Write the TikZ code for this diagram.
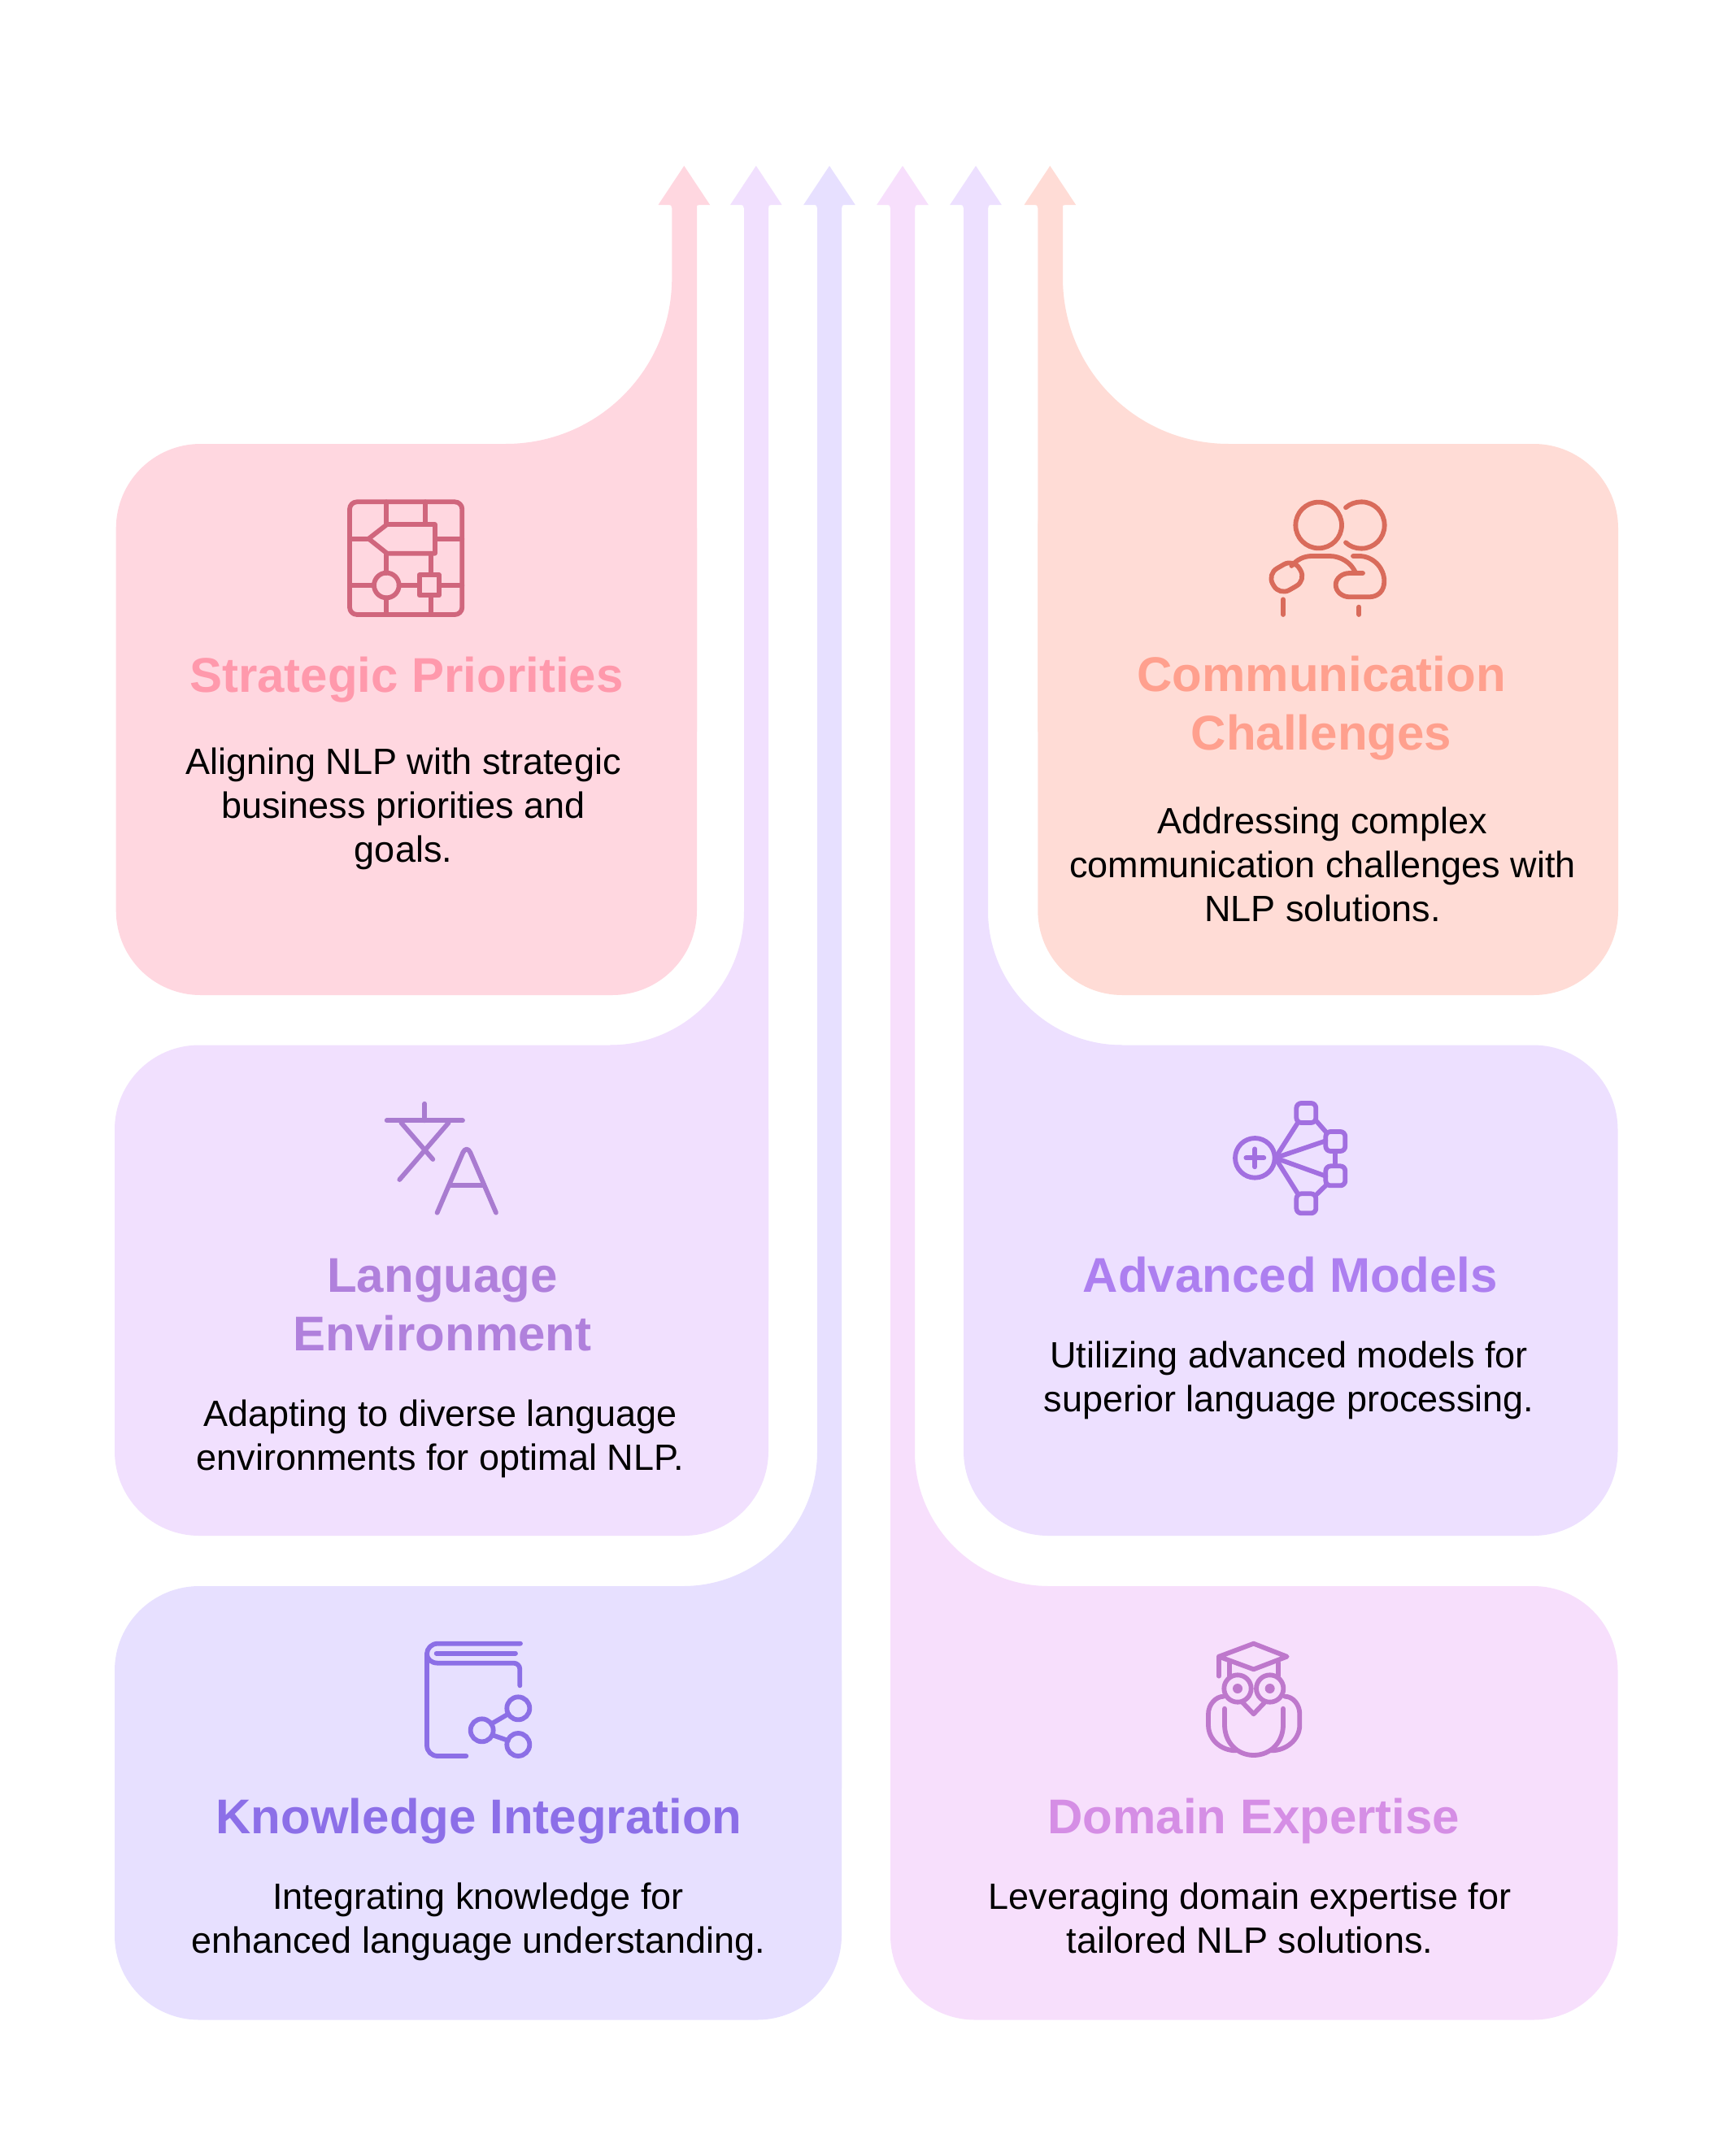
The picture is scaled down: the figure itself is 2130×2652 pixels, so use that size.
\documentclass[tikz,border=0pt]{standalone}
\usepackage{fontspec}
\setmainfont{Liberation Sans}
\definecolor{fillpink}{HTML}{FFD7E0}
\definecolor{fillcoral}{HTML}{FFDCD6}
\definecolor{filllilac}{HTML}{F1E0FE}
\definecolor{fillmauve}{HTML}{EDE0FF}
\definecolor{fillviolet}{HTML}{E7E0FF}
\definecolor{fillorchid}{HTML}{F7DFFC}
\definecolor{iconpink}{HTML}{D0667D}
\definecolor{iconcoral}{HTML}{D96B5B}
\definecolor{iconlilac}{HTML}{A97BD0}
\definecolor{iconmauve}{HTML}{A26FE0}
\definecolor{iconviolet}{HTML}{8C6FE6}
\definecolor{iconorchid}{HTML}{BE78CC}
\definecolor{headpink}{HTML}{FF99AC}
\definecolor{headcoral}{HTML}{FFA08E}
\definecolor{headlilac}{HTML}{B080DC}
\definecolor{headmauve}{HTML}{AD7FF0}
\definecolor{headviolet}{HTML}{8C6FE8}
\definecolor{headorchid}{HTML}{D58EE5}
\tikzset{
  headtext/.style={font=\bfseries\fontsize{60}{72}\selectfont,align=center,inner sep=0pt},
  bodytext/.style={font=\fontsize{45}{54}\selectfont,align=center,inner sep=0pt,text=black},
  iconline/.style={line width=5.8pt,line cap=round,line join=round}
}
\begin{document}
\begin{tikzpicture}[x=1pt,y=-1pt]
  \useasboundingbox (0,0) rectangle (2130,2652);
  \fill[white] (0,0) rectangle (2130,2652);
  % arrow heads
  \foreach \hx/\hc in {841.3/fillpink,929.8/filllilac,1020/fillviolet,1110/fillorchid,1200/fillmauve,1291.3/fillcoral}
    \fill[\hc] (\hx-31.8,252) -- (\hx,204) -- (\hx+31.8,252) -- (\hx+18.5,252)
      .. controls (\hx+16,252) and (\hx+15.3,253) .. (\hx+15.3,255.5) -- (\hx-15.3,255.5)
      .. controls (\hx-15.3,253) and (\hx-16,252) .. (\hx-18.5,252) -- cycle;
  % left column
  \fill[fillpink,rounded corners=104] (142.7,546) rectangle (857,1224);
  \fill[fillpink] (622,546) .. controls (735,546) and (826.3,455) .. (826.3,342) -- (826.3,254) -- (857,254) -- (857,900) -- (622,900) -- cycle;
  \fill[filllilac,rounded corners=104] (141,1285.5) rectangle (945,1889);
  \fill[filllilac] (750,1285.5) .. controls (841,1285.5) and (915,1211.5) .. (915,1120.5) -- (915,254) -- (945,254) -- (945,1600) -- (750,1600) -- cycle;
  \fill[fillviolet,rounded corners=104] (141,1951) rectangle (1035,2484.5);
  \fill[fillviolet] (840,1951) .. controls (931,1951) and (1005,1877) .. (1005,1786) -- (1005,254) -- (1035,254) -- (1035,2200) -- (840,2200) -- cycle;
  % right column
  \fill[fillcoral,rounded corners=104] (1276.3,546) rectangle (1990,1224);
  \fill[fillcoral] (1511,546) .. controls (1398,546) and (1307,455) .. (1307,342) -- (1307,254) -- (1276.3,254) -- (1276.3,900) -- (1511,900) -- cycle;
  \fill[fillmauve,rounded corners=104] (1185,1285.5) rectangle (1989.5,1889);
  \fill[fillmauve] (1380,1285.5) .. controls (1289,1285.5) and (1215,1211.5) .. (1215,1120.5) -- (1215,254) -- (1185,254) -- (1185,1600) -- (1380,1600) -- cycle;
  \fill[fillorchid,rounded corners=104] (1095,1951) rectangle (1989.5,2484.5);
  \fill[fillorchid] (1290,1951) .. controls (1199,1951) and (1125,1877) .. (1125,1786) -- (1125,254) -- (1095,254) -- (1095,2200) -- (1290,2200) -- cycle;
  % texts
  \node[headtext,text=headpink] (prioritytitle) at (500,836.5) {Strategic Priorities};
  \node[bodytext] (prioritybody) at (496,995) {Aligning NLP with strategic\\business priorities and\\goals.};
  \node[headtext,text=headcoral] (commtitle) at (1625,871.5) {Communication\\Challenges};
  \node[bodytext] (commbody) at (1626.5,1063.5) {Addressing complex\\communication challenges with\\NLP solutions.};
  \node[headtext,text=headlilac] (languagetitle) at (544,1605) {Language\\Environment};
  \node[bodytext] (languagebody) at (541.5,1769.5) {Adapting to diverse language\\environments for optimal NLP.};
  \node[headtext,text=headmauve] (modelstitle) at (1587,1568) {Advanced Models};
  \node[bodytext] (modelsbody) at (1585,1698) {Utilizing advanced models for\\superior language processing.};
  \node[headtext,text=headviolet] (knowledgetitle) at (589,2240.5) {Knowledge Integration};
  \node[bodytext] (knowledgebody) at (588,2364) {Integrating knowledge for\\enhanced language understanding.};
  \node[headtext,text=headorchid] (domaintitle) at (1542,2239.5) {Domain Expertise};
  \node[bodytext] (domainbody) at (1537,2359) {Leveraging domain expertise for\\tailored NLP solutions.};
  % chip icon
  \begin{scope}[shift={(400,590)},x=0.3333pt,y=-0.3333pt,iconline,draw=iconpink]
    \draw[rounded corners=9pt] (90,82) rectangle (505,498);
    \draw (226,82) -- (226,165);
    \draw (370,82) -- (370,165);
    \draw (405,165) -- (228,165) -- (160,218) -- (228,272) -- (405,272) -- cycle;
    \draw (90,218) -- (160,218);
    \draw (405,218) -- (505,218);
    \draw (226,272) -- (226,345);
    \draw (390,272) -- (390,350);
    \draw (226,390) circle (46);
    \draw (347,352) rectangle (420,427);
    \draw (90,390) -- (180,390);
    \draw (272,390) -- (347,390);
    \draw (420,390) -- (505,390);
    \draw (226,436) -- (226,498);
    \draw (390,427) -- (390,498);
  \end{scope}
  % people icon
  \begin{scope}[shift={(1540,590)},x=0.3333pt,y=-0.3333pt,iconline,draw=iconcoral]
    \draw (245,168) circle (85);
    \draw (345,103) .. controls (360,90) and (380,82) .. (403,82) .. controls (450,82) and (488,120) .. (488,168) .. controls (488,216) and (450,254) .. (403,254) .. controls (380,254) and (360,246) .. (345,232);
    \draw (145,318) .. controls (165,295) and (190,282) .. (220,282) -- (285,282) .. controls (325,282) and (365,305) .. (382,345);
    \draw[rotate around={30:(127,360)},rounded corners=14pt] (70,314) rectangle (184,406);
    \draw (372,282) -- (395,282) .. controls (445,282) and (487,325) .. (487,375) .. controls (487,410) and (465,433) .. (430,433) -- (360,433) .. controls (330,433) and (308,412) .. (308,388) .. controls (308,365) and (330,345) .. (360,345) -- (408,345);
    \draw (114,442) -- (114,498);
    \draw (394,470) -- (394,498);
  \end{scope}
  % translate icon
  \begin{scope}[shift={(450,1345)},x=0.3333pt,y=-0.3333pt,iconline,draw=iconlilac]
    \draw (217,38) -- (217,100);
    \draw (77,100) -- (357,100);
    \draw (130,108) -- (247,243);
    \draw (305,108) -- (124,318);
    \draw (263,440) -- (358,218) .. controls (365,202) and (378,202) .. (385,218) -- (480,440);
    \draw (312,338) -- (435,338);
  \end{scope}
  % models icon
  \begin{scope}[shift={(1500,1345)},x=0.3333pt,y=-0.3333pt,iconline,draw=iconmauve]
    \draw (130,238) circle (73);
    \draw (97,238) -- (163,238);
    \draw (130,205) -- (130,271);
    \foreach \sx/\sy in {319/72,427/177,427/304,319/406}
      \draw[rounded corners=6pt] (\sx-36,\sy-36) rectangle (\sx+36,\sy+36);
    \draw (205,238) -- (288,108);
    \draw (205,238) -- (391,175);
    \draw (205,238) -- (391,305);
    \draw (205,238) -- (288,370);
    \draw (355,100) -- (391,141);
    \draw (427,213) -- (427,267);
    \draw (355,375) -- (391,340);
  \end{scope}
  % book icon
  \begin{scope}[shift={(510,2015)},x=0.3333pt,y=-0.3333pt,iconline,draw=iconviolet]
    \draw (390,20) -- (85,20) .. controls (62,20) and (45,38) .. (45,58) -- (45,395) .. controls (45,418) and (62,435) .. (85,435) -- (190,435);
    \draw (45,58) .. controls (45,78) and (62,92) .. (85,92) -- (365,92) .. controls (378,92) and (388,102) .. (388,115) -- (388,175);
    \draw (80,56) -- (372,56);
    \draw (382,259) circle (42);
    \draw (248,340) circle (42);
    \draw (382,393) circle (42);
    \draw (285,315) -- (345,280);
    \draw (288,358) -- (345,378);
  \end{scope}
  % owl icon
  \begin{scope}[shift={(1470,2015)},x=0.3333pt,y=-0.3333pt,iconline,draw=iconorchid]
    \draw (87,68) -- (215,20) -- (338,68) -- (215,115) -- cycle;
    \draw (87,68) -- (87,140);
    \draw (127,90) -- (127,140);
    \draw (305,90) -- (305,140);
    \draw (156,186) circle (50);
    \draw (275,186) circle (50);
    \fill[iconorchid] (156,186) circle (18);
    \fill[iconorchid] (275,186) circle (18);
    \draw (175,238) -- (215,280) -- (255,238);
    \draw (108,260) -- (108,320) .. controls (108,385) and (155,432) .. (215,432) .. controls (277,432) and (324,385) .. (324,320) -- (324,260);
    \draw (105,215) .. controls (75,215) and (48,245) .. (48,280) -- (48,320) .. controls (48,375) and (95,415) .. (150,415);
    \draw (330,215) .. controls (360,215) and (385,245) .. (385,280) -- (385,320) .. controls (385,375) and (335,415) .. (280,415);
  \end{scope}
\end{tikzpicture}
\end{document}
